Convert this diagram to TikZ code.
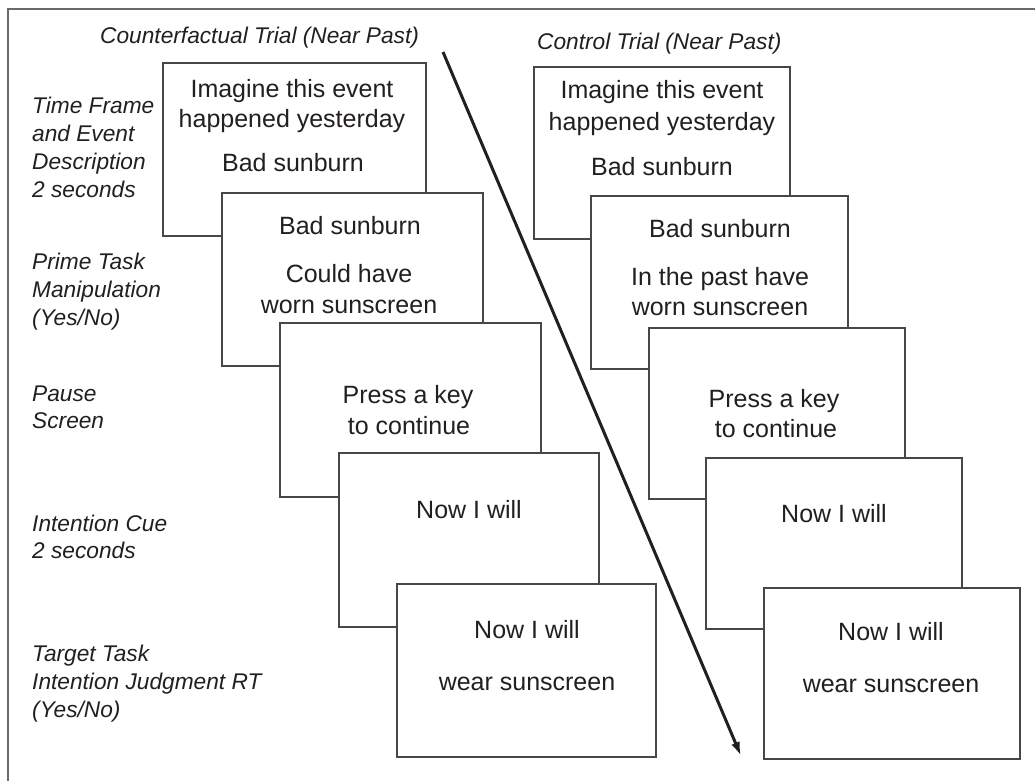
\documentclass[tikz,border=0pt]{standalone}
\usepackage{fontspec}
\setmainfont{Liberation Sans}
\usetikzlibrary{arrows.meta}
\definecolor{ink}{HTML}{231F20}
\definecolor{edgec}{HTML}{474747}
\definecolor{framec}{HTML}{6A6A6A}
\begin{document}
\begin{tikzpicture}[x=1pt,y=-1pt,
  scr/.style={draw=edgec, line width=1.4pt, fill=white, anchor=north west, inner sep=0pt, outer sep=0pt},
  bt/.style={anchor=base, font=\fontsize{25}{30}\selectfont, text=ink, inner sep=0pt},
  lab/.style={anchor=base west, font=\fontsize{22.7}{28}\selectfont\itshape, text=ink, inner sep=0pt}]
\useasboundingbox (0,0) rectangle (1035,780);
\fill[white] (0,0) rectangle (1035,780);
% frame
\coordinate (f1) at (8,781);
\coordinate (f2) at (8,9);
\coordinate (f3) at (1036,9);
\draw[framec, line width=2.2pt] (f1) -- (f2) -- (f3);

% headers
\node[lab] (h1) at (100,43) {Counterfactual Trial (Near Past)};
\node[lab] (h2) at (537,49) {Control Trial (Near Past)};

% left labels
\node[lab] (a1) at (32,113) {Time Frame};
\node[lab] (a2) at (32,141) {and Event};
\node[lab] (a3) at (32,169) {Description};
\node[lab] (a4) at (32,197) {2 seconds};
\node[lab] (b1) at (32,269) {Prime Task};
\node[lab] (b2) at (32,297) {Manipulation};
\node[lab] (b3) at (32,325) {(Yes/No)};
\node[lab] (c1) at (32,401) {Pause};
\node[lab] (c2) at (32,428) {Screen};
\node[lab] (d1) at (32,531) {Intention Cue};
\node[lab] (d2) at (32,558) {2 seconds};
\node[lab] (e1) at (32,661) {Target Task};
\node[lab] (e2) at (32,689) {Intention Judgment RT};
\node[lab] (e3) at (32,717) {(Yes/No)};

% left column screens
\node[scr, minimum width=263pt, minimum height=173pt] (L1) at (163,63) {};
\node[bt] (L1a) at (292,97) {Imagine this event};
\node[bt] (L1b) at (292,127) {happened yesterday};
\node[bt] (L1c) at (293,171) {Bad sunburn};

\node[scr, minimum width=261pt, minimum height=173pt] (L2) at (222,193) {};
\node[bt] (L2a) at (350,234) {Bad sunburn};
\node[bt] (L2b) at (349,282) {Could have};
\node[bt] (L2c) at (349,313) {worn sunscreen};

\node[scr, minimum width=261pt, minimum height=174pt] (L3) at (280,323) {};
\node[bt] (L3a) at (408,403) {Press a key};
\node[bt] (L3b) at (409,434) {to continue};

\node[scr, minimum width=260pt, minimum height=174pt] (L4) at (339,453) {};
\node[bt] (L4a) at (469,518) {Now I will};

\node[scr, minimum width=259pt, minimum height=173pt] (L5) at (397,584) {};
\node[bt] (L5a) at (527,638) {Now I will};
\node[bt] (L5b) at (527,690) {wear sunscreen};

% right column screens
\node[scr, minimum width=256pt, minimum height=172pt] (R1) at (534,67) {};
\node[bt] (R1a) at (662,98) {Imagine this event};
\node[bt] (R1b) at (662,130) {happened yesterday};
\node[bt] (R1c) at (662,175) {Bad sunburn};

\node[scr, minimum width=257pt, minimum height=173pt] (R2) at (591,196) {};
\node[bt] (R2a) at (720,237) {Bad sunburn};
\node[bt] (R2b) at (720,285) {In the past have};
\node[bt] (R2c) at (720,315) {worn sunscreen};

\node[scr, minimum width=256pt, minimum height=171pt] (R3) at (649,328) {};
\node[bt] (R3a) at (774,407) {Press a key};
\node[bt] (R3b) at (776,437) {to continue};

\node[scr, minimum width=256pt, minimum height=171pt] (R4) at (706,458) {};
\node[bt] (R4a) at (834,522) {Now I will};

\node[scr, minimum width=256pt, minimum height=171pt] (R5) at (764,588) {};
\node[bt] (R5a) at (891,640) {Now I will};
\node[bt] (R5b) at (891,692) {wear sunscreen};

% time arrow
\coordinate (as) at (443,52);
\coordinate (ae) at (741,756);
\draw[-{Latex[length=14pt,width=9pt]}, line width=3pt, ink] (as) -- (ae);
\end{tikzpicture}
\end{document}
